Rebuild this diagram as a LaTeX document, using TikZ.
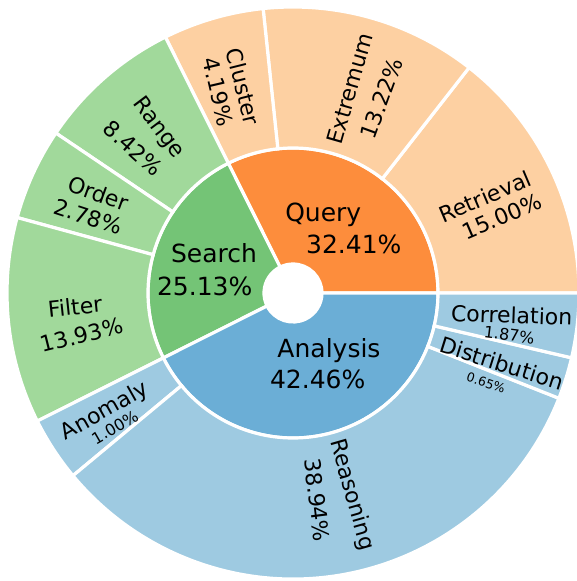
\documentclass[tikz,border=0pt]{standalone}
\usepackage{fontspec}
\setmainfont{DejaVu Sans}
\definecolor{queryin}{HTML}{FD8D3C}
\definecolor{queryout}{HTML}{FDD0A2}
\definecolor{searchin}{HTML}{74C476}
\definecolor{searchout}{HTML}{A1D99B}
\definecolor{analysisin}{HTML}{6BAED6}
\definecolor{analysisout}{HTML}{9ECAE1}
\tikzset{
  sector/.style = {draw=white, line width=3.2pt},
  inlabel/.style = {font=\fontsize{25}{30}\selectfont, anchor=base, inner sep=0pt},
  outlabel/.style = {font=\fontsize{22}{26}\selectfont, inner sep=0pt},
  smallpct/.style = {font=\fontsize{16}{19}\selectfont, inner sep=0pt},
  tinypct/.style = {font=\fontsize{12.5}{15}\selectfont, inner sep=0pt}
}
% colour, start angle, end angle, inner radius, outer radius
\newcommand{\ringsector}[5]{%
  \filldraw[fill=#1, sector] (#2:#4pt) arc[start angle=#2, end angle=#3, radius=#4pt]
    -- (#3:#5pt) arc[start angle=#3, end angle=#2, radius=#5pt] -- cycle;}

\begin{document}
\begin{tikzpicture}[x=1pt, y=1pt]
  \useasboundingbox (-293,-288) rectangle (284,293);
  % inner ring
  \ringsector{queryin}{0}{116.5}{29}{145}
  \ringsector{searchin}{116.5}{206.6}{29}{145}
  \ringsector{analysisin}{206.6}{360}{29}{145}
  % outer ring
  \foreach \a/\b/\c in {0/52/queryout, 52/96/queryout, 96/116.5/queryout,
      116.5/146/searchout, 146/164.7/searchout, 164.7/206.6/searchout,
      206.6/219.7/analysisout, 219.7/338.4/analysisout,
      338.4/346.9/analysisout, 346.9/360/analysisout}
    {\ringsector{\c}{\a}{\b}{145}{286}}

  \node[inlabel] (query) at (30.3,71.3) {Query};
  \node[inlabel] (querypct) at (60.8,39) {32.41\%};
  \node[inlabel] (search) at (-79,30.3) {Search};
  \node[inlabel] (searchpct) at (-88.3,-2) {25.13\%};
  \node[inlabel] (analysis) at (36,-64.3) {Analysis};
  \node[inlabel] (analysispct) at (24.7,-95.3) {42.46\%};

  \node[outlabel, rotate=23] (retrieval) at (192,96.3) {Retrieval};
  \node[outlabel, rotate=23] (retrievalpct) at (208.7,76.3) {15.00\%};
  \node[outlabel, rotate=74] (extremum) at (57,204.7) {Extremum};
  \node[outlabel, rotate=70] (extremumpct) at (88.7,194.7) {13.22\%};
  \node[outlabel, rotate=-76] (cluster) at (-49.7,206.3) {Cluster};
  \node[outlabel, rotate=-77] (clusterpct) at (-74.7,201.3) {4.19\%};
  \node[outlabel, rotate=-53] (range) at (-134.7,164.7) {Range};
  \node[outlabel, rotate=-42] (rangepct) at (-159.7,144.7) {8.42\%};
  \node[outlabel, rotate=-20] (order) at (-194.7,99.7) {Order};
  \node[outlabel, rotate=-18] (orderpct) at (-204.7,76.3) {2.78\%};
  \node[outlabel, rotate=6] (filter) at (-218,-13.7) {Filter};
  \node[outlabel, rotate=14] (filterpct) at (-211.3,-42) {13.93\%};
  \node[outlabel, rotate=29.5] (anomaly) at (-188,-118.7) {Anomaly};
  \node[smallpct, rotate=30] (anomalypct) at (-178,-134.3) {1.00\%};
  \node[outlabel, rotate=-74] (reasoning) at (58.7,-202) {Reasoning};
  \node[outlabel, rotate=-83] (reasoningpct) at (24.3,-207) {38.94\%};
  \node[outlabel, rotate=-17.5] (distribution) at (208.7,-70.3) {Distribution};
  \node[tinypct, rotate=-19] (distributionpct) at (193,-89.7) {0.65\%};
  \node[outlabel, rotate=-2] (correlation) at (218.7,-22) {Correlation};
  \node[smallpct, rotate=-7] (correlationpct) at (216.3,-42) {1.87\%};
\end{tikzpicture}
\end{document}
